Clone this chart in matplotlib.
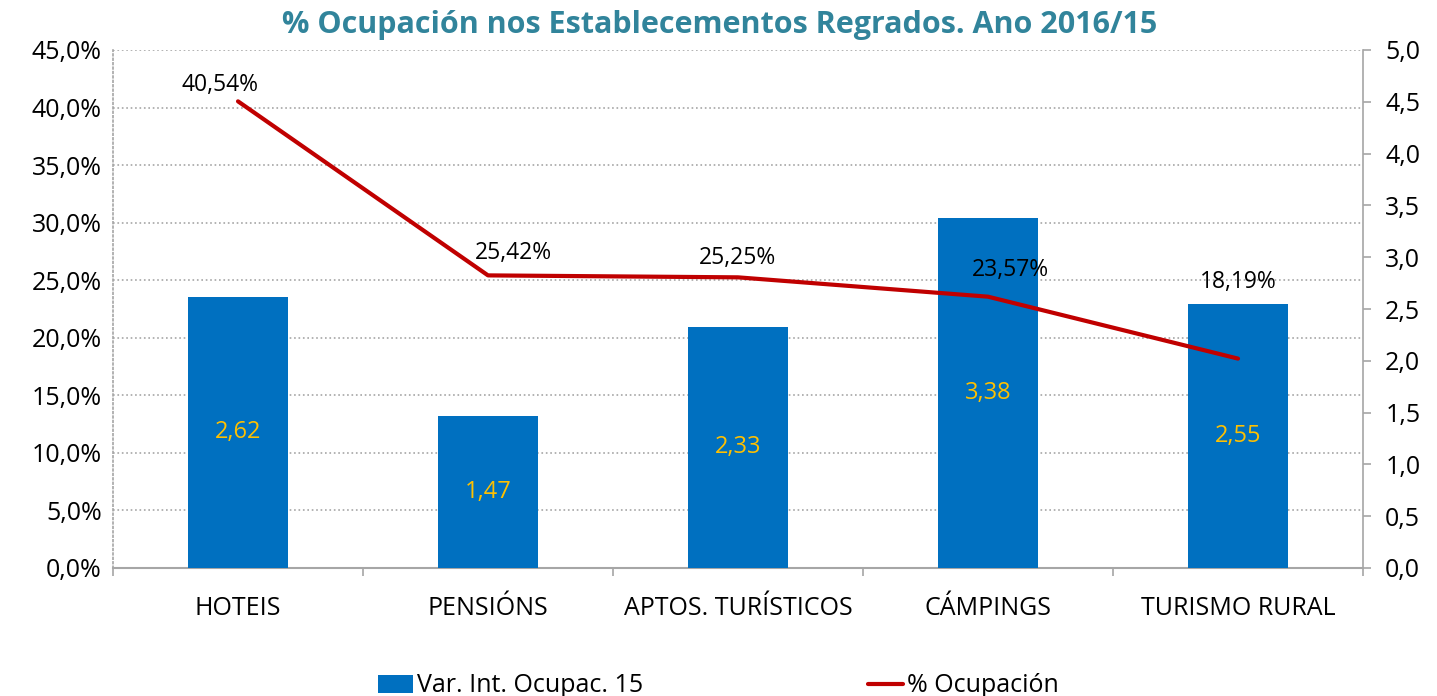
import numpy as np
import matplotlib.pyplot as plt
from matplotlib.ticker import FuncFormatter, MultipleLocator

plt.rcParams['font.family'] = ['Open Sans', 'DejaVu Sans']

categories = ['HOTEIS', 'PENSIÓNS', 'APTOS. TURÍSTICOS', 'CÁMPINGS', 'TURISMO RURAL']
var_int = [2.62, 1.47, 2.33, 3.38, 2.55]          # right axis, bars
ocupacion = [40.54, 25.42, 25.25, 23.57, 18.19]   # left axis, line (%)

bar_color = '#0070C0'
line_color = '#C00000'
grey = '#A6A6A6'

fig = plt.figure(figsize=(14.37, 6.96), dpi=100)
ax = fig.add_axes([113 / 1437, 1 - 568 / 696, 1250 / 1437, 518 / 696])
ax2 = ax.twinx()

x = np.arange(len(categories))

# bars on the right axis
ax2.bar(x, var_int, width=0.4, color=bar_color, label='Var. Int. Ocupac. 15', zorder=2)
for xi, v in zip(x, var_int):
    ax2.text(xi, v / 2, f'{v:.2f}'.replace('.', ','), ha='center', va='center',
             color='#FFC000', fontsize=17)
ax2.set_ylim(0, 5)
ax2.yaxis.set_major_locator(MultipleLocator(0.5))
ax2.yaxis.set_major_formatter(FuncFormatter(lambda v, p: f'{v:.1f}'.replace('.', ',')))

# line belongs to the left axis; drawn on the twin (rescaled) so it sits above bars
line_vals = np.array(ocupacion) / 45 * 5
ax2.plot(x, line_vals, color=line_color, lw=3, label='% Ocupación', zorder=3,
         solid_capstyle='round')
offsets = [(-13, 12), (18, 16), (0, 14), (16, 19), (0, 55)]
for xi, v, (dx, dy) in zip(x, ocupacion, offsets):
    ax2.annotate(f'{v:.2f}%'.replace('.', ','), (xi, v / 45 * 5), xytext=(dx, dy),
                 textcoords='offset points', ha='center', va='center', fontsize=16.5)

ax.set_ylim(0, 45)
ax.yaxis.set_major_locator(MultipleLocator(5))
ax.yaxis.set_major_formatter(FuncFormatter(lambda v, p: f'{v:.1f}%'.replace('.', ',')))
ax.grid(axis='y', color=grey, ls=':', lw=1.2)
ax.set_axisbelow(True)
ax.set_xlim(-0.5, len(categories) - 0.5)

ax.set_xticks(x)
ax.set_xticklabels(categories, fontsize=18)
ax.set_xticks(np.arange(-0.5, len(categories)), minor=True)
ax.tick_params(axis='x', which='major', length=0, pad=20)
ax.tick_params(axis='x', which='minor', length=6, color=grey, width=1.2)
ax.tick_params(axis='y', length=0, labelsize=18, pad=8)
ax2.tick_params(axis='y', length=6, color=grey, width=1.2, labelsize=18, pad=10)

for a in (ax, ax2):
    a.spines['top'].set_visible(False)
ax.spines['left'].set_linestyle(':')
ax.spines['left'].set_color(grey)
ax.spines['left'].set_linewidth(1.2)
ax2.spines['left'].set_visible(False)
ax.spines['right'].set_visible(False)
ax2.spines['right'].set_color(grey)
ax2.spines['right'].set_linewidth(1.2)
ax.spines['bottom'].set_color(grey)
ax.spines['bottom'].set_linewidth(1.5)
ax2.spines['bottom'].set_visible(False)

fig.text(720 / 1437, 1 - 25 / 696, '% Ocupación nos Establecementos Regrados. Ano 2016/15',
         ha='center', va='center', color='#31849B', fontsize=22, fontweight='bold')

h, l = ax2.get_legend_handles_labels()
order = [1, 0]
fig.legend([h[i] for i in order], [l[i] for i in order], loc='center',
           bbox_to_anchor=(0.5, 1 - 686 / 696), ncol=2, frameon=False, fontsize=18,
           columnspacing=9, handlelength=1.4, handletextpad=0.15)

fig.savefig('out.png', dpi=100)
